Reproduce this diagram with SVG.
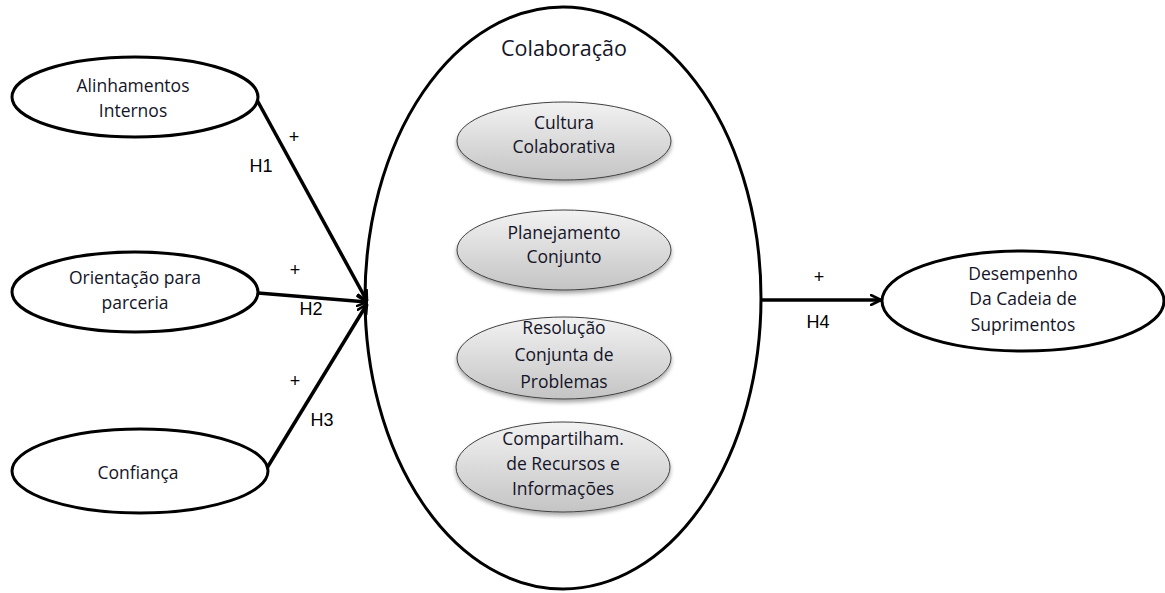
<svg xmlns="http://www.w3.org/2000/svg" width="1165" height="593" viewBox="0 0 1165 593">
  <defs>
    <linearGradient id="grayFill" x1="0" y1="0" x2="0" y2="1">
      <stop offset="0" stop-color="#f2f2f2"/>
      <stop offset="1" stop-color="#c4c4c4"/>
    </linearGradient>
    <filter id="shadow" x="-10%" y="-10%" width="120%" height="130%">
      <feGaussianBlur in="SourceAlpha" stdDeviation="2"/>
      <feOffset dx="0" dy="3" result="b"/>
      <feComponentTransfer><feFuncA type="linear" slope="0.35"/></feComponentTransfer>
      <feMerge><feMergeNode/><feMergeNode in="SourceGraphic"/></feMerge>
    </filter>
    <marker id="arrow" viewBox="0 0 12 12" refX="11" refY="6" markerWidth="12" markerHeight="12" markerUnits="userSpaceOnUse" orient="auto">
      <path d="M1,1 L11,6 L1,11" fill="none" stroke="#000" stroke-width="2.6" stroke-linecap="round" stroke-linejoin="round"/>
    </marker>
  </defs>
  <style>
    .node { fill: #fff; stroke: #000; stroke-width: 3; }
    .sub { fill: url(#grayFill); stroke: #404040; stroke-width: 1; filter: url(#shadow); }
    .lbl { font-family: "Open Sans", "Liberation Sans", sans-serif; font-size: 17.5px; fill: #141428; text-anchor: middle; }
    .hyp { font-family: "Liberation Sans", Arial, sans-serif; font-size: 18px; fill: #000; text-anchor: middle; }
    .edge { stroke: #000; stroke-width: 3.5; fill: none; marker-end: url(#arrow); }
  </style>

  <rect width="1165" height="593" fill="#fff"/>

  <!-- central construct with its four dimensions -->
  <g id="colaboracao">
    <ellipse class="node" cx="563" cy="298" rx="198" ry="291"/>
    <text class="lbl" x="564" y="56" style="font-size:21.5px">Colaboração</text>
  </g>
  <g id="cultura">
    <ellipse class="sub" cx="564" cy="141" rx="107" ry="39"/>
    <text class="lbl" x="564" y="129">Cultura</text>
    <text class="lbl" x="564" y="153">Colaborativa</text>
  </g>
  <g id="planejamento">
    <ellipse class="sub" cx="564" cy="250" rx="107" ry="40"/>
    <text class="lbl" x="564" y="239">Planejamento</text>
    <text class="lbl" x="564" y="263">Conjunto</text>
  </g>
  <g id="resolucao">
    <ellipse class="sub" cx="564" cy="358" rx="107" ry="41"/>
    <text class="lbl" x="564" y="334">Resolução</text>
    <text class="lbl" x="564" y="361">Conjunta de</text>
    <text class="lbl" x="564" y="388">Problemas</text>
  </g>
  <g id="compartilhamento">
    <ellipse class="sub" cx="563" cy="467" rx="107" ry="45"/>
    <text class="lbl" x="563" y="445">Compartilham.</text>
    <text class="lbl" x="563" y="470">de Recursos e</text>
    <text class="lbl" x="563" y="495">Informações</text>
  </g>

  <!-- antecedents -->
  <g id="alinhamentos">
    <ellipse class="node" cx="135" cy="97" rx="123" ry="40"/>
    <text class="lbl" x="133" y="92">Alinhamentos</text>
    <text class="lbl" x="133" y="117">Internos</text>
  </g>
  <g id="orientacao">
    <ellipse class="node" cx="135" cy="292" rx="123" ry="40"/>
    <text class="lbl" x="135" y="284">Orientação para</text>
    <text class="lbl" x="135" y="309">parceria</text>
  </g>
  <g id="confianca">
    <ellipse class="node" cx="140" cy="471" rx="128" ry="42"/>
    <text class="lbl" x="138" y="479">Confiança</text>
  </g>

  <!-- outcome -->
  <g id="desempenho">
    <ellipse class="node" cx="1023" cy="301" rx="141" ry="50"/>
    <text class="lbl" x="1023" y="280">Desempenho</text>
    <text class="lbl" x="1023" y="305">Da Cadeia de</text>
    <text class="lbl" x="1023" y="331">Suprimentos</text>
  </g>

  <!-- hypothesised paths -->
  <g id="connectors">
    <line class="edge" x1="257" y1="100" x2="367" y2="301"/>
    <line class="edge" x1="258" y1="293" x2="367" y2="302"/>
    <line class="edge" x1="267" y1="468" x2="367" y2="304"/>
    <line class="edge" x1="762" y1="300" x2="881" y2="300"/>
    <text class="hyp" x="294" y="143">+</text>
    <text class="hyp" x="261" y="172">H1</text>
    <text class="hyp" x="295" y="276">+</text>
    <text class="hyp" x="311" y="315">H2</text>
    <text class="hyp" x="295" y="387">+</text>
    <text class="hyp" x="322" y="426">H3</text>
    <text class="hyp" x="819" y="283">+</text>
    <text class="hyp" x="818" y="328">H4</text>
  </g>
</svg>
